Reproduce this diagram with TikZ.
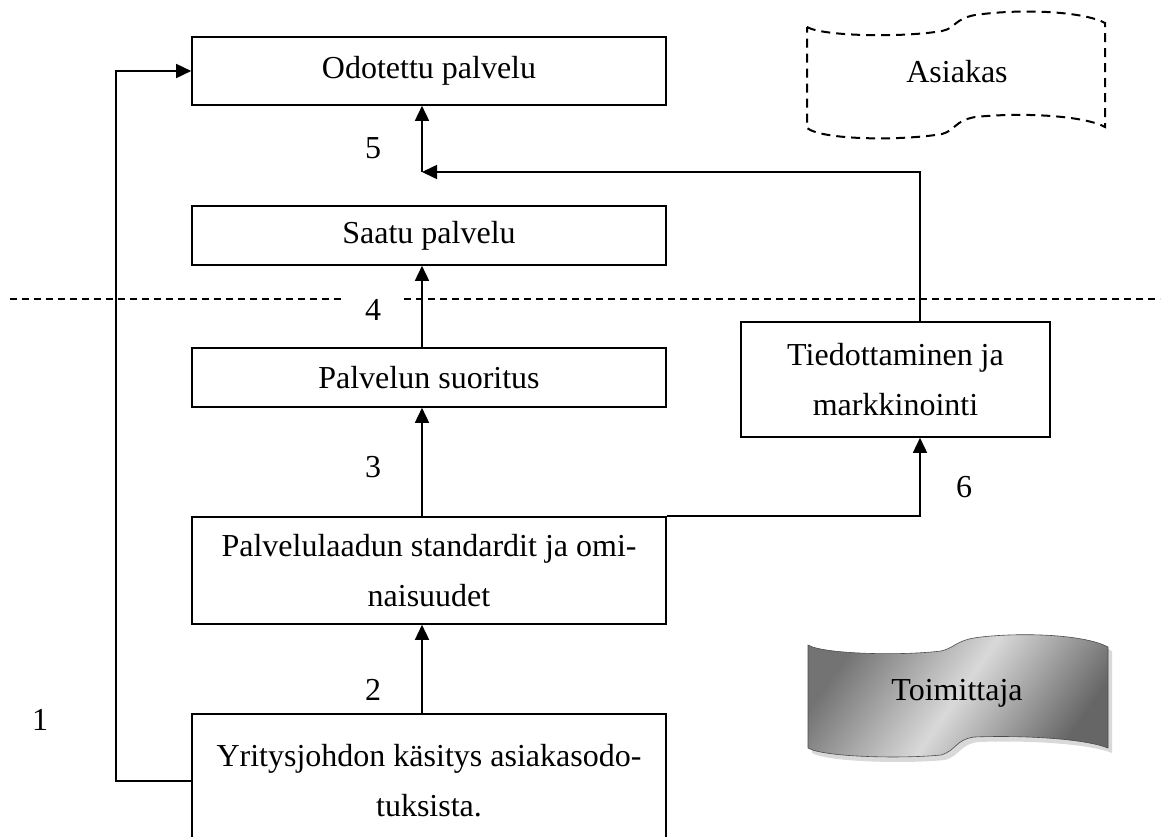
\documentclass[tikz,border=0pt]{standalone}
\usepackage{fontspec}
\setmainfont{Liberation Serif}
\usetikzlibrary{arrows.meta,calc,shadings}
\begin{document}
\begin{tikzpicture}[x=1pt,y=-1pt,
  font=\fontsize{32}{50}\selectfont,
  box/.style={draw,line width=1.6pt,minimum width=474pt,align=center,inner sep=0pt},
  conn/.style={line width=1.6pt},
  arr/.style={conn,-{Triangle[length=15pt,width=14pt]}},
  lbl/.style={inner sep=0pt},
]
\useasboundingbox (0,0) rectangle (1167,836);
\clip (0,0) rectangle (1167,836);

% boxes
\node[box,minimum height=68pt] (A) at (429,71) {Odotettu palvelu};
\node[box,minimum height=59pt] (B) at (429,235.5) {Saatu palvelu};
\node[box,minimum height=59pt] (C) at (429,377.5) {Palvelun suoritus};
\node[box,minimum height=107pt] (D) at (429,570.5) {Palvelulaadun standardit ja omi-\\naisuudet};
\node[box,minimum height=134pt] (E) at (429,781) {Yritysjohdon käsitys asiakasodo-\\tuksista.};
\node[box,minimum width=309pt,minimum height=115pt] (T) at (895.5,379.5) {Tiedottaminen ja\\markkinointi};

% labels
\node[lbl] (n1) at (40,720) {1};
\node[lbl] (n2) at (373,690) {2};
\node[lbl] (n3) at (373,467) {3};
\node[lbl] (n4) at (373,310) {4};
\node[lbl] (n5) at (373,148) {5};
\node[lbl] (n6) at (964,487) {6};

% dashed separator
\coordinate (d1) at (10,299);
\coordinate (d2) at (345,299);
\coordinate (d3) at (404,299);
\coordinate (d4) at (1160,299);
\draw[line width=1.2pt,dash pattern=on 7pt off 5pt] (d1) -- (d2);
\draw[line width=1.2pt,dash pattern=on 7pt off 5pt] (d3) -- (d4);

% connectors
\draw[arr] ([xshift=-7pt]E.north) -- ([xshift=-7pt]D.south);
\draw[arr] ([xshift=-7pt]D.north) -- ([xshift=-7pt]C.south);
\draw[arr] ([xshift=-7pt]C.north) -- ([xshift=-7pt]B.south);
\coordinate (j5) at (422,172);
\draw[arr] ([xshift=24.5pt]T.north) |- (j5);
\draw[arr] (j5) -- ([xshift=-7pt]A.south);
\draw[arr] (D.north east) -| ([xshift=24.5pt]T.south);
\draw[arr] (E.west) -- ++(-75,0) |- (A.west);

% Asiakas
\draw[line width=2pt,dash pattern=on 9pt off 6pt]
  (807,27) .. controls (822,36) and (900,38) .. (942,31)
  .. controls (956,28) and (954,19) .. (975,15)
  .. controls (1025,8) and (1085,12) .. (1105,23)
  -- (1105,127)
  .. controls (1085,116) and (1025,112) .. (975,117)
  .. controls (954,121) and (956,130) .. (942,134)
  .. controls (900,141) and (822,140) .. (807,128) -- cycle;
\node[lbl] (As) at (957,72) {Asiakas};

% Toimittaja
\fill[gray!30]
  (812,650) .. controls (827,659) and (905,661) .. (945,656)
  .. controls (961,652) and (959,644) .. (985,641)
  .. controls (1030,636) and (1090,639) .. (1112,651)
  -- (1112,753)
  .. controls (1090,744) and (1030,740) .. (978,742)
  .. controls (959,745) and (961,755) .. (945,760)
  .. controls (905,764) and (827,762) .. (812,753) -- cycle;
\shade[shading=axis,left color=black!55,right color=black!60,middle color=black!15,shading angle=55,draw=gray!60!black,line width=0.6pt]
  (808,645) .. controls (823,654) and (900,656) .. (941,651)
  .. controls (957,647) and (955,640) .. (981,637)
  .. controls (1026,632) and (1086,635) .. (1108,647)
  -- (1108,748)
  .. controls (1086,739) and (1026,735) .. (974,737)
  .. controls (955,740) and (957,750) .. (941,755)
  .. controls (900,759) and (823,757) .. (808,748) -- cycle;
\node[lbl] (To) at (957,693) {Toimittaja};
\end{tikzpicture}
\end{document}
